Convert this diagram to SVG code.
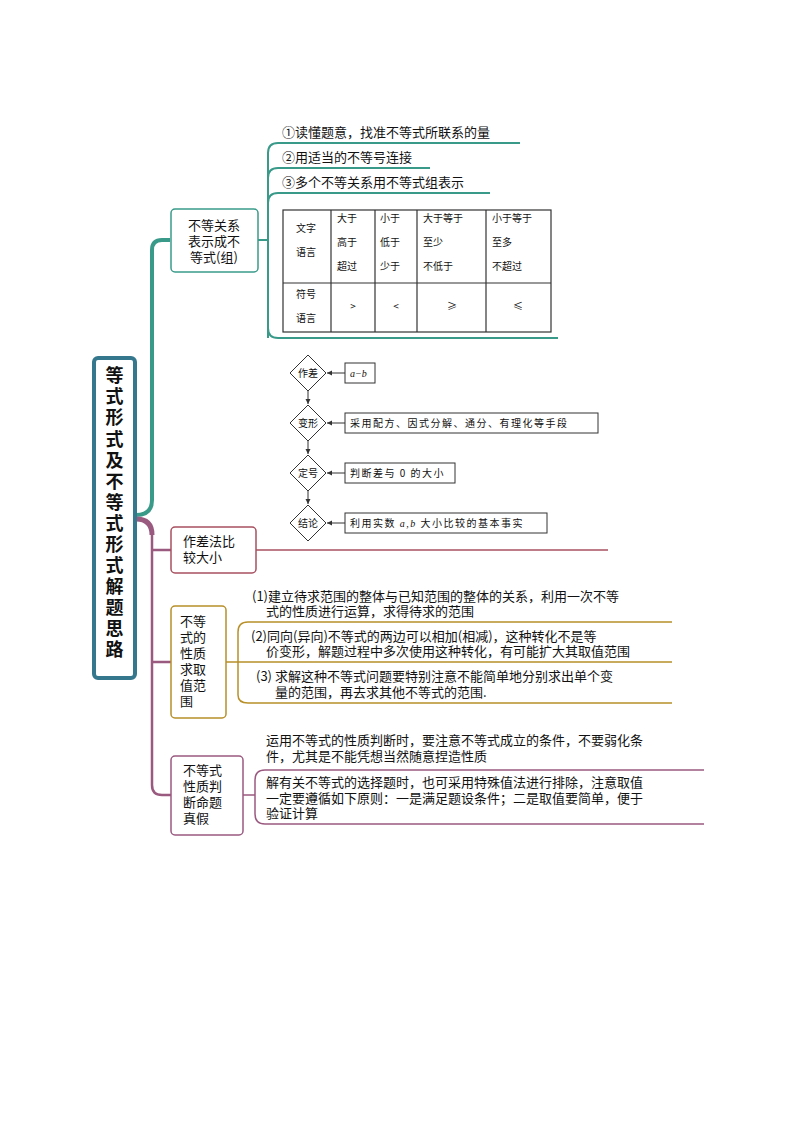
<svg xmlns="http://www.w3.org/2000/svg" width="794" height="1123" viewBox="0 0 794 1123">
<style>
text{font-family:"Noto Sans CJK SC","Noto Sans",sans-serif;fill:#111}
.t{font-size:13px}
.s{font-size:10px;font-family:"Noto Sans CJK SC",serif}
.f{font-size:10px}
.teal{stroke:#3a9a8a;fill:none}
.pur{stroke:#9a5a80;fill:none}
.rose{stroke:#a85060;fill:none}
.gold{stroke:#b8902a;fill:none}
.bk{stroke:#333;fill:#fff;stroke-width:1}
</style>
<defs><marker id="a" markerWidth="6" markerHeight="6" refX="5" refY="3" orient="auto"><path d="M0,0.5L5,3L0,5.5z" fill="#333"/></marker></defs>
<g id="connectors">
<path class="teal" stroke-width="4" d="M136,515 Q152,515 152,500 L152,250 Q152,240 162,240 L170,240"/>
<path class="teal" stroke-width="2" d="M258,240 L268,240 M268,338 L268,153 Q268,143 278,143 L520,143 M268,178 Q268,168 278,168 L430,168 M268,203 Q268,193 278,193 L490,193 M268,328 Q268,338 278,338 L558,338"/>
<path class="pur" stroke-width="5" d="M136,519 Q152,519 152,535"/>
<path class="pur" stroke-width="2.5" d="M152,530 L152,785 Q152,795 162,795 L171,795 M152,550 L171,550 M152,662 L171,662"/>
<path class="rose" stroke-width="1.5" d="M256,550 L608,550"/>
<path class="gold" stroke-width="1.5" d="M226,662 L672,662 M238,695 L238,632 Q238,622 248,622 L672,622 M238,695 Q238,703 248,703 L672,703"/>
<path class="pur" stroke-width="1.5" d="M243,795 L255,795 M255,814 L255,780 Q255,770 265,770 L704,770 M255,814 Q255,824 265,824 L704,824"/>
<g stroke="#333" stroke-width="1" marker-end="url(#a)">
<line x1="345" y1="373" x2="327" y2="373"/><line x1="345" y1="423" x2="327" y2="423"/><line x1="345" y1="473" x2="327" y2="473"/><line x1="345" y1="523" x2="327" y2="523"/>
<line x1="308" y1="391" x2="308" y2="404"/><line x1="308" y1="441" x2="308" y2="454"/><line x1="308" y1="491" x2="308" y2="504"/>
</g>
</g>
<g id="root"><rect x="94" y="358" width="41" height="320" rx="4" fill="#fff" stroke="#35788e" stroke-width="4"/>
<text x="114.5" font-size="18" font-weight="bold" text-anchor="middle" font-family="Noto Sans CJK SC,serif"><tspan y="382">等</tspan><tspan x="114.5" y="403">式</tspan><tspan x="114.5" y="424">形</tspan><tspan x="114.5" y="446">式</tspan><tspan x="114.5" y="467">及</tspan><tspan x="114.5" y="488">不</tspan><tspan x="114.5" y="509">等</tspan><tspan x="114.5" y="530">式</tspan><tspan x="114.5" y="551">形</tspan><tspan x="114.5" y="572">式</tspan><tspan x="114.5" y="593">解</tspan><tspan x="114.5" y="614">题</tspan><tspan x="114.5" y="635">思</tspan><tspan x="114.5" y="656">路</tspan></text></g>
<g id="n1"><rect x="171" y="209" width="87" height="63" rx="4" fill="#fff" class="teal" stroke-width="1.5"/>
<text class="t" x="214" text-anchor="middle"><tspan y="230">不等关系</tspan><tspan x="214" y="246">表示成不</tspan><tspan x="214" y="262">等式(组)</tspan></text>
<text class="t" x="282" y="137">①读懂题意，找准不等式所联系的量</text>
<text class="t" x="282" y="162">②用适当的不等号连接</text>
<text class="t" x="282" y="187">③多个不等关系用不等式组表示</text>
<g stroke="#333" stroke-width="1.2" fill="none"><rect x="283" y="210" width="268" height="122"/><line x1="283" y1="283" x2="551" y2="283"/><line x1="331" y1="210" x2="331" y2="332"/><line x1="375" y1="210" x2="375" y2="332"/><line x1="417" y1="210" x2="417" y2="332"/><line x1="486" y1="210" x2="486" y2="332"/></g>
<text class="s"><tspan x="296" y="232">文字</tspan><tspan x="296" y="256">语言</tspan><tspan x="337" y="222">大于</tspan><tspan x="337" y="246">高于</tspan><tspan x="337" y="270">超过</tspan><tspan x="380" y="222">小于</tspan><tspan x="380" y="246">低于</tspan><tspan x="380" y="270">少于</tspan><tspan x="423" y="222">大于等于</tspan><tspan x="423" y="246">至少</tspan><tspan x="423" y="270">不低于</tspan><tspan x="492" y="222">小于等于</tspan><tspan x="492" y="246">至多</tspan><tspan x="492" y="270">不超过</tspan><tspan x="296" y="298">符号</tspan><tspan x="296" y="322">语言</tspan></text>
<text class="s" text-anchor="middle"><tspan x="353" y="310">&gt;</tspan><tspan x="396" y="310">&lt;</tspan><tspan x="452" y="310">≥</tspan><tspan x="518" y="310">≤</tspan></text></g>
<g id="n2"><rect x="171" y="527" width="85" height="46" rx="4" fill="#fff" class="rose" stroke-width="1.5"/>
<text class="t" x="183"><tspan y="546">作差法比</tspan><tspan x="183" y="562">较大小</tspan></text>
<g class="bk"><path d="M308,355L326,373L308,391L290,373z"/><path d="M308,405L326,423L308,441L290,423z"/><path d="M308,455L326,473L308,491L290,473z"/><path d="M308,505L326,523L308,541L290,523z"/>
<rect x="345" y="363" width="30" height="20"/><rect x="345" y="413" width="253" height="20"/><rect x="345" y="463" width="110" height="20"/><rect x="345" y="513" width="202" height="20"/></g>
<text class="f" text-anchor="middle"><tspan x="308" y="377">作差</tspan><tspan x="308" y="427">变形</tspan><tspan x="308" y="477">定号</tspan><tspan x="308" y="527">结论</tspan></text>
<text class="f" x="350"><tspan y="377" font-style="italic" font-family="Liberation Serif,serif">a−b</tspan><tspan x="350" y="427" letter-spacing="1.5">采用配方、因式分解、通分、有理化等手段</tspan><tspan x="350" y="477" letter-spacing="1.5">判断差与 0 的大小</tspan><tspan x="350" y="527" letter-spacing="1.5">利用实数 <tspan font-style="italic" font-family="Liberation Serif,serif">a,b</tspan> 大小比较的基本事实</tspan></text></g>
<g id="n3"><rect x="171" y="606" width="55" height="112" rx="4" fill="#fff" class="gold" stroke-width="1.5"/>
<text class="t" x="180"><tspan y="626">不等</tspan><tspan x="180" y="642">式的</tspan><tspan x="180" y="658">性质</tspan><tspan x="180" y="674">求取</tspan><tspan x="180" y="690">值范</tspan><tspan x="180" y="706">围</tspan></text>
<text class="t"><tspan x="252" y="601">(1)建立待求范围的整体与已知范围的整体的关系，利用一次不等</tspan><tspan x="266" y="616">式的性质进行运算，求得待求的范围</tspan><tspan x="251" y="641">(2)同向(异向)不等式的两边可以相加(相减)，这种转化不是等</tspan><tspan x="266" y="656">价变形，解题过程中多次使用这种转化，有可能扩大其取值范围</tspan><tspan x="256" y="681">(3) 求解这种不等式问题要特别注意不能简单地分别求出单个变</tspan><tspan x="275" y="697">量的范围，再去求其他不等式的范围.</tspan></text></g>
<g id="n4"><rect x="171" y="756" width="72" height="79" rx="4" fill="#fff" class="pur" stroke-width="1.5"/>
<text class="t" x="183"><tspan y="775">不等式</tspan><tspan x="183" y="791">性质判</tspan><tspan x="183" y="807">断命题</tspan><tspan x="183" y="823">真假</tspan></text>
<text class="t"><tspan x="266" y="745">运用不等式的性质判断时，要注意不等式成立的条件，不要弱化条</tspan><tspan x="266" y="761">件，尤其是不能凭想当然随意捏造性质</tspan><tspan x="266" y="787">解有关不等式的选择题时，也可采用特殊值法进行排除，注意取值</tspan><tspan x="266" y="803">一定要遵循如下原则：一是满足题设条件；二是取值要简单，便于</tspan><tspan x="266" y="818">验证计算</tspan></text></g>
</svg>
